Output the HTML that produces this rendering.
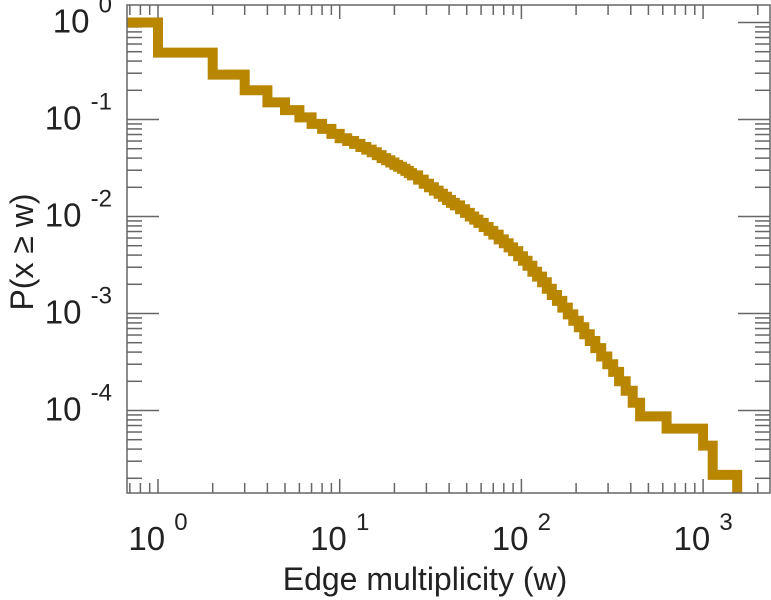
<!DOCTYPE html>
<html><head><meta charset="utf-8"><style>
body{margin:0;background:#fff;}
svg{display:block;font-family:"Liberation Sans",sans-serif;}
</style></head><body>
<svg id="chart" width="771" height="600" viewBox="0 0 771 600" xmlns="http://www.w3.org/2000/svg">
<g id="ticks"></g>
<g id="labels"></g>
<path id="series" fill="none" stroke="#b88600" stroke-width="10" stroke-linejoin="miter" stroke-linecap="butt"></path>
<rect x="127" y="5" width="643" height="488" fill="none" stroke="#666" stroke-width="1.5"></rect>
<text x="425" y="590" font-size="32" text-anchor="middle" fill="#222">Edge multiplicity (w)</text>
<text transform="translate(33,252) rotate(-90)" font-size="32" text-anchor="middle" fill="#222">P(x ≥ w)</text>
</svg>
<script>
const ws=[1,2,3,4,5,6,7,8,9,10,11,12,13,14,15,16,17,18,19,20,21,22,23,24,25,27,29,31,33,35,37,39,41,43,46,49,52,55,58,62,66,70,75,80,85,90,96,102,108,115,122,130,138,147,157,168,180,193,207,222,238,255,275,297,320,345,375,410,450,630,1000,1130];
const ps=[0.49,0.29,0.2,0.15,0.125,0.105,0.09,0.08,0.071,0.064,0.060,0.056,0.052,0.049,0.046,0.043,0.040,0.038,0.036,0.034,0.0325,0.031,0.0295,0.028,0.0265,0.024,0.0218,0.020,0.0185,0.0172,0.016,0.0148,0.0138,0.013,0.0119,0.0109,0.0100,0.0093,0.0086,0.0078,0.0071,0.0065,0.0058,0.0053,0.0048,0.0044,0.0039,0.0035,0.0031,0.0027,0.0024,0.0021,0.0018,0.00155,0.00135,0.00115,0.00098,0.00084,0.00072,0.00061,0.00052,0.00044,0.00036,0.00030,0.00025,0.00020,0.00016,0.00012,0.000087,0.000065,0.0000435,0.0000217];
const wMax=1540;
const xTickExps=[0,1,2,3];
const yTickExps=[0,-1,-2,-3,-4];
const L=127,R=770,T=5,B=493;
const x0=158,xd=181.7,y0=22.5,yd=97;
function sx(w){return x0+Math.log10(w)*xd;}
function sy(p){return y0-Math.log10(p)*yd;}
const NS="http://www.w3.org/2000/svg";
let d="M"+L+","+sy(1);
for(let i=0;i<ws.length;i++){
  d+=" H"+sx(ws[i]).toFixed(1)+" V"+sy(ps[i]).toFixed(1);
}
d+=" H"+sx(wMax).toFixed(1)+" V"+B;
document.getElementById('series').setAttribute('d',d);
const tg=document.getElementById('ticks');
function line(x1,y1,x2,y2){const l=document.createElementNS(NS,'line');l.setAttribute('x1',x1);l.setAttribute('y1',y1);l.setAttribute('x2',x2);l.setAttribute('y2',y2);l.setAttribute('stroke','#666');l.setAttribute('stroke-width','1.5');


tg.appendChild(l);}
for(let e=-1;e<=3;e++){for(let m=1;m<10;m++){const x=sx(m*Math.pow(10,e));if(x<L+1||x>R-1)continue;const len=m===1?14:10;line(x,B,x,B-len);line(x,T,x,T+len);}}
for(let e=-5;e<=0;e++){for(let m=1;m<10;m++){const y=sy(m*Math.pow(10,e));if(y<T+1||y>B-1)continue;const len=m===1?32:15;line(L,y,L+len,y);line(R,y,R-len,y);}}
const lg=document.getElementById('labels');
xTickExps.forEach(e=>{const t=document.createElementNS(NS,'text');t.setAttribute('x',sx(Math.pow(10,e)));t.setAttribute('y',550);t.setAttribute('text-anchor','middle');t.setAttribute('font-size','33');t.setAttribute('fill','#222');


t.innerHTML='10 <tspan font-size="24" dy="-20">'+e+'</tspan>';lg.appendChild(t);});
yTickExps.forEach(e=>{const y=sy(Math.pow(10,e));const t=document.createElementNS(NS,'text');t.setAttribute('x',112);t.setAttribute('y',y+10);t.setAttribute('text-anchor','end');t.setAttribute('font-size','33');t.setAttribute('fill','#222');


t.innerHTML='10 <tspan font-size="24" dy="-20">'+e+'</tspan>';lg.appendChild(t);});
</script>
</body></html>
